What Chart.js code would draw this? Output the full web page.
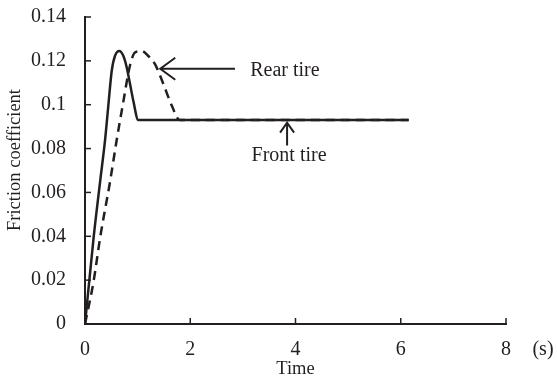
<!DOCTYPE html>
<html>
<head>
<meta charset="utf-8">
<script src="https://cdn.jsdelivr.net/npm/chart.js@4.4.0/dist/chart.umd.min.js"></script>
<style>
  html, body { margin: 0; padding: 0; background: #fff; }
  #wrap { width: 557px; height: 376px; }
</style>
</head>
<body>
<div id="wrap"><canvas id="myChart" width="557" height="376"></canvas></div>
<script>
// Data
const frontTime = [0, 0.165, 0.29, 0.38, 0.443, 0.508, 0.57, 0.652, 0.728, 0.793, 0.856, 0.918, 1.013, 6.15];
const frontMu   = [0, 0.0397, 0.0655, 0.0836, 0.0995, 0.1155, 0.1223, 0.1245, 0.1223, 0.117, 0.1094, 0.1018, 0.093, 0.093];

const rearTime = [0, 0.16, 0.29, 0.48, 0.6, 0.715, 0.856, 0.95, 1.077, 1.2, 1.33, 1.49, 1.65, 1.8, 6.15];
const rearMu   = [0, 0.019, 0.0397, 0.0655, 0.0836, 0.0995, 0.118, 0.1238, 0.1245, 0.1223, 0.1185, 0.1094, 0.0995, 0.093, 0.093];

const xTicks = [0, 2, 4, 6, 8];
const yTicks = [0, 0.02, 0.04, 0.06, 0.08, 0.1, 0.12, 0.14];

const ink = '#231f20';
const serif = "'Liberation Serif', 'Times New Roman', serif";

function toPoints(xs, ys) {
  return xs.map(function (x, i) { return { x: x, y: ys[i] }; });
}

// inward tick marks, arrows and free text
const extras = {
  id: 'extras',
  afterDraw: function (chart) {
    const ctx = chart.ctx;
    const xs = chart.scales.x;
    const ys = chart.scales.y;
    const area = chart.chartArea;
    ctx.save();
    ctx.strokeStyle = ink;
    ctx.fillStyle = ink;
    ctx.lineWidth = 1.5;
    // ticks pointing into the plot
    xTicks.forEach(function (v) {
      const px = xs.getPixelForValue(v);
      ctx.beginPath();
      ctx.moveTo(px, area.bottom);
      ctx.lineTo(px, area.bottom - 6);
      ctx.stroke();
    });
    yTicks.forEach(function (v) {
      const py = ys.getPixelForValue(v);
      ctx.beginPath();
      ctx.moveTo(area.left, py);
      ctx.lineTo(area.left + 6, py);
      ctx.stroke();
    });

    // Rear tire arrow
    ctx.lineWidth = 2;
    let tx = xs.getPixelForValue(1.43), ty = ys.getPixelForValue(0.1164);
    let ex = xs.getPixelForValue(2.85);
    ctx.beginPath();
    ctx.moveTo(ex, ty); ctx.lineTo(tx, ty);
    ctx.moveTo(tx + 15, ty - 11); ctx.lineTo(tx, ty); ctx.lineTo(tx + 15, ty + 11);
    ctx.stroke();

    // Front tire arrow
    tx = xs.getPixelForValue(3.84); ty = ys.getPixelForValue(0.0918);
    let ey = ys.getPixelForValue(0.0814);
    ctx.beginPath();
    ctx.moveTo(tx, ey); ctx.lineTo(tx, ty);
    ctx.moveTo(tx - 7, ty + 10); ctx.lineTo(tx, ty); ctx.lineTo(tx + 7, ty + 10);
    ctx.stroke();

    ctx.font = '20px ' + serif;
    ctx.textBaseline = 'middle';
    ctx.textAlign = 'left';
    ctx.fillText('Rear tire', xs.getPixelForValue(3.14), ys.getPixelForValue(0.1155));
    ctx.fillText('Front tire', xs.getPixelForValue(3.165), ys.getPixelForValue(0.0768));

    // unit next to last x tick
    ctx.textAlign = 'center';
    ctx.fillText('(s)', 543, 350);

    // y axis title
    ctx.font = '18.5px ' + serif;
    ctx.translate(15, 160);
    ctx.rotate(-Math.PI / 2);
    ctx.fillText('Friction coefficient', 0, 0);
    ctx.restore();
  }
};

const config = {
  type: 'scatter',
  data: {
    datasets: [
      {
        label: 'Rear tire',
        data: toPoints(rearTime, rearMu),
        showLine: true,
        borderColor: ink,
        borderWidth: 2.5,
        borderDash: [9, 6],
        pointRadius: 0,
        cubicInterpolationMode: 'monotone'
      },
      {
        label: 'Front tire',
        data: toPoints(frontTime, frontMu),
        showLine: true,
        borderColor: ink,
        borderWidth: 2.5,
        pointRadius: 0,
        cubicInterpolationMode: 'monotone'
      }
    ]
  },
  options: {
    responsive: false,
    animation: false,
    layout: { padding: { top: 17, right: 51, left: 0, bottom: 0 } },
    plugins: {
      legend: { display: false },
      tooltip: { enabled: false }
    },
    scales: {
      x: {
        type: 'linear',
        min: 0,
        max: 8,
        afterBuildTicks: function (s) { s.ticks = xTicks.map(function (v) { return { value: v }; }); },
        afterFit: function (s) { s.height = 52; s.paddingLeft = 0; s.paddingRight = 0; },
        grid: { display: false, drawTicks: false },
        border: { display: true, color: ink, width: 2 },
        ticks: { color: ink, padding: 14, font: { family: serif, size: 20 } },
        title: {
          display: true,
          text: 'Time',
          color: ink,
          padding: { top: 0, bottom: -2 },
          font: { family: serif, size: 18.5, lineHeight: 1 }
        }
      },
      y: {
        type: 'linear',
        min: 0,
        max: 0.14,
        afterBuildTicks: function (s) { s.ticks = yTicks.map(function (v) { return { value: v }; }); },
        afterFit: function (s) { s.width = 85; s.paddingTop = 0; s.paddingBottom = 0; },
        grid: { display: false, drawTicks: false },
        border: { display: true, color: ink, width: 2 },
        ticks: {
          color: ink,
          padding: 19,
          font: { family: serif, size: 20 },
          callback: function (v) { return String(+v.toFixed(2)); }
        }
      }
    }
  },
  plugins: [extras]
};

new Chart(document.getElementById('myChart'), config);
</script>
</body>
</html>
